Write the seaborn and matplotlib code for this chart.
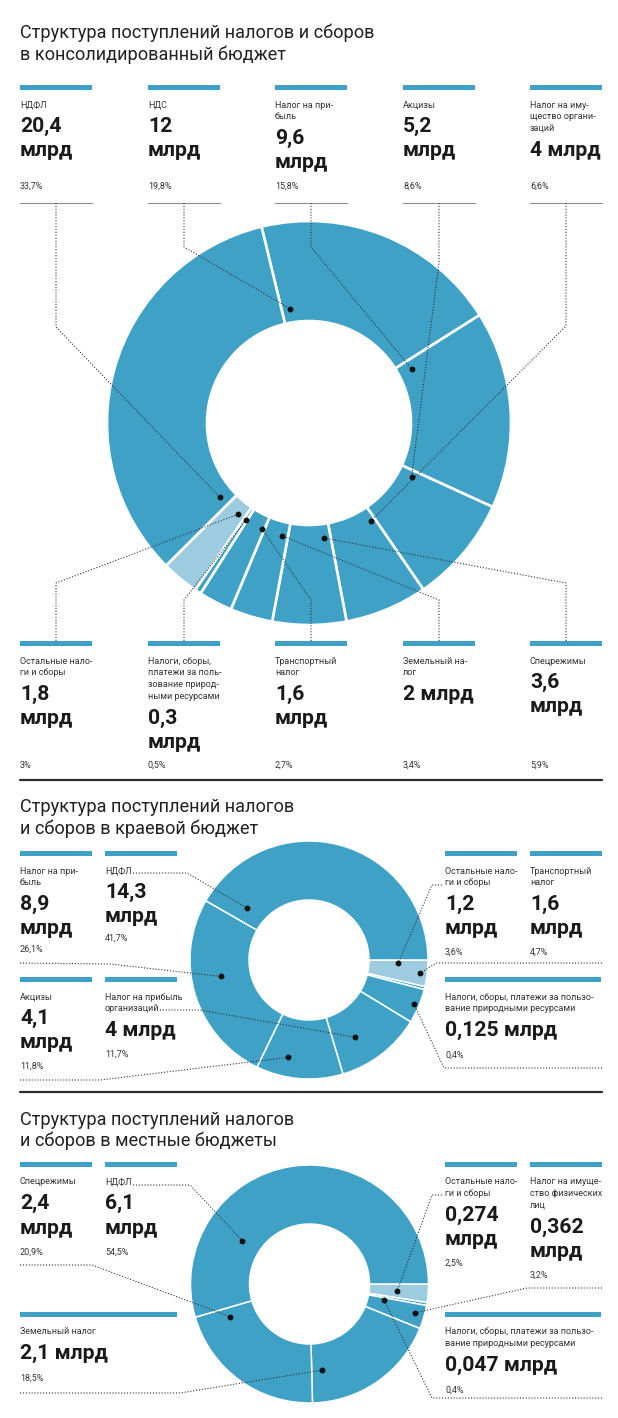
import matplotlib
matplotlib.use("Agg")
import matplotlib.pyplot as plt
from matplotlib.patches import Rectangle
import seaborn as sns
import numpy as np

# ---- data (pie order, clockwise) ----
# consolidated budget, bln rub / share %
cons_names = ["НДС", "Налог на прибыль", "Акцизы", "Налог на имущество организаций",
              "Спецрежимы", "Земельный налог", "Транспортный налог",
              "Налоги, сборы, платежи за пользование природными ресурсами",
              "Остальные налоги и сборы", "НДФЛ"]
cons_bln = [12, 9.6, 5.2, 4, 3.6, 2, 1.6, 0.3, 1.8, 20.4]
cons_share = [19.8, 15.8, 8.6, 6.6, 5.9, 3.4, 2.7, 0.5, 3.0, 33.7]

# regional budget
region_names = ["Остальные налоги и сборы",
                "Налоги, сборы, платежи за пользование природными ресурсами",
                "Транспортный налог", "Налог на прибыль организаций", "Акцизы",
                "Налог на прибыль", "НДФЛ"]
region_bln = [1.2, 0.125, 1.6, 4, 4.1, 8.9, 14.3]
region_share = [3.6, 0.4, 4.7, 11.7, 11.8, 26.1, 41.7]

# local budgets
local_names = ["Остальные налоги и сборы",
               "Налоги, сборы, платежи за пользование природными ресурсами",
               "Налог на имущество физических лиц", "Земельный налог", "Спецрежимы", "НДФЛ"]
local_bln = [0.274, 0.047, 0.362, 2.1, 2.4, 6.1]
local_share = [2.5, 0.4, 3.2, 18.5, 20.9, 54.5]

titles = [["Структура поступлений налогов и сборов", "в консолидированный бюджет"],
          ["Структура поступлений налогов", "и сборов в краевой бюджет"],
          ["Структура поступлений налогов", "и сборов в местные бюджеты"]]

BLUE = "#3fa1c6"
LIGHT = "#9dcce1"
INK = "#1a1a1a"
W, H = 618, 1418

sns.set_style("white")
plt.rcParams["font.family"] = ["Roboto", "DejaVu Sans"]

fig = plt.figure(figsize=(W / 100, H / 100), dpi=100)
ax = fig.add_axes([0, 0, 1, 1])


def fmt(v):
    return f"{v:g}".replace(".", ",")


def donut(shares, cx, cy, R, r, start, light, lw):
    colors = [LIGHT if i == light else BLUE for i in range(len(shares))]
    # y axis is inverted, so counterclock=True runs clockwise on screen
    wedges, _ = ax.pie(shares, colors=colors, startangle=start - 90, counterclock=True,
                       radius=R, center=(cx, cy),
                       wedgeprops=dict(width=R - r, edgecolor="white", linewidth=lw))
    return wedges


def block(x, y, w, label, value, share, wrap, pct_y):
    ax.add_patch(Rectangle((x, y), w, 5, color=BLUE, lw=0))
    lines = label.split("\n")
    for i, t in enumerate(lines):
        ax.text(x, y + 20 + i * 11.7, t, fontsize=6.5, va="center", color="#333")
    base = y + 47 + (len(lines) - 1) * 11.8
    big = dict(fontsize=15.2, fontweight="bold", va="baseline", color=INK)
    if wrap:
        ax.text(x, base, fmt(value), **big)
        ax.text(x, base + 24.5, "млрд", **big)
    else:
        ax.text(x, base, fmt(value) + " млрд", **big)
    ax.text(x, pct_y, fmt(share) + "%", fontsize=6.5, va="center", color="#333")


def leader(pts, wedge, frac, rad, cx, cy):
    t = np.deg2rad(wedge.theta1 + frac * (wedge.theta2 - wedge.theta1))
    dx, dy = cx + rad * np.cos(t), cy + rad * np.sin(t)
    xs = [p[0] for p in pts] + [dx]
    ys = [p[1] for p in pts] + [dy]
    ax.plot(xs, ys, color="#333", lw=0.8, ls=(0, (1, 1.6)), zorder=5)
    ax.plot(dx, dy, "o", color="#111", ms=3.2, zorder=6)


def title(lines, y):
    for i, t in enumerate(lines):
        ax.text(20, y + i * 21.5, t, fontsize=13.1, va="baseline", color="#222")


# ---- chart 1: consolidated budget ----
title(titles[0], 38)
cx, cy = 309, 423
wd = donut(cons_share, cx, cy, 202, 102, -13.6, 8, 1.9)
# (idx, x, bar_y, label, wrap, pct_y, leader points, anchor frac)
blocks1 = [
    (9, 20, 85, "НДФЛ", True, 186, [(56, 203), (56, 327)], 0.042),
    (0, 148, 85, "НДС", True, 186, [(184, 203), (184, 247)], 0.058),
    (1, 275, 85, "Налог на при-\nбыль", True, 186, [(311, 203), (311, 247)], 0.08),
    (2, 403, 85, "Акцизы", True, 186, [(439, 203), (439, 263)], 0.107),
    (3, 530, 85, "Налог на иму-\nщество органи-\nзаций", False, 186, [(566, 203), (566, 326)], 0.097),
    (8, 20, 641, "Остальные нало-\nги и сборы", True, 765, [(56, 641), (56, 583)], 0.34),
    (7, 148, 641, "Налоги, сборы,\nплатежи за поль-\nзование природ-\nными ресурсами", True, 765,
     [(184, 641), (184, 600)], 0.28),
    (6, 275, 641, "Транспортный\nналог", True, 765, [(311, 641), (311, 600)], 0.11),
    (5, 403, 641, "Земельный на-\nлог", False, 765, [(439, 641), (439, 600)], 0.23),
    (4, 530, 641, "Спецрежимы", True, 765, [(566, 641), (566, 583)], 0.155),
]
for idx, x, by, lab, wrap, py, pts, fr in blocks1:
    block(x, by, 72, lab, cons_bln[idx], cons_share[idx], wrap, py)
    if by < 400:
        ax.plot([x, x + 72], [203, 203], color="#8c8c8c", lw=0.8)
    leader(pts, wd[idx], fr, 116, cx, cy)

ax.plot([20, 602], [779.5, 779.5], color="#2b2b2b", lw=1.6)

# ---- chart 2: regional budget ----
title(titles[1], 812)
cx, cy = 309, 960
wd = donut(region_share, cx, cy, 119, 60, 90, 0, 1.1)
# (idx, x, bar_y, width, label, wrap, pct_y, leader points, anchor wedge, frac, radius)
blocks2 = [
    (5, 20, 851, 72, "Налог на при-\nбыль", True, 949, [(20, 963), (110, 964)], 5, 0.57, 90),
    (6, 105, 851, 72, "НДФЛ", True, 938, [(133, 873), (187, 873)], 6, 0.067, 80.6),
    (0, 445, 851, 72, "Остальные нало-\nги и сборы", True, 952, [(442, 885), (432, 885)], 0, 0.13, 89.5),
    (2, 530, 851, 72, "Транспортный\nналог", True, 952, [(602, 963), (436, 963)], 0, 0.52, 112),
    (4, 20, 977, 72, "Акцизы", True, 1066, [(20, 1080), (100, 1080)], 4, 0.67, 99.5),
    (3, 105, 977, 72, "Налог на прибыль\nорганизаций", False, 1054, [(160, 1010), (200, 1010)], 3, 0.66, 90),
    (1, 445, 977, 156, "Налоги, сборы, платежи за пользо-\nвание природными ресурсами", False, 1055,
     [(602, 1068), (444, 1068)], 2, 0.5, 114),
]
for idx, x, by, w, lab, wrap, py, pts, wi, fr, rad in blocks2:
    block(x, by, w, lab, region_bln[idx], region_share[idx], wrap, py)
    leader(pts, wd[wi], fr, rad, cx, cy)

ax.plot([20, 602], [1092, 1092], color="#2b2b2b", lw=1.6)

# ---- chart 3: local budgets ----
title(titles[2], 1125)
cx, cy = 309.5, 1284
wd = donut(local_share, cx, cy, 119, 60, 90, 0, 1.1)
blocks3 = [
    (4, 20, 1162, 72, "Спецрежимы", True, 1252, [(20, 1265), (92, 1265)], 4, 0.92, 86),
    (5, 105, 1162, 72, "НДФЛ", True, 1252, [(133, 1185), (190, 1185)], 5, 0.25, 80),
    (0, 445, 1162, 72, "Остальные нало-\nги и сборы", True, 1263, [(442, 1195), (432, 1195)], 0, 0.5, 88),
    (2, 530, 1162, 72, "Налог на имуще-\nство физических\nлиц", True, 1275, [(602, 1288), (527, 1288)], 2, 0.43, 109),
    (3, 20, 1312, 157, "Земельный налог", False, 1378, [(20, 1393), (180, 1393)], 3, 0.9, 87),
    (1, 445, 1312, 156, "Налоги, сборы, платежи за пользо-\nвание природными ресурсами", False, 1390,
     [(602, 1398), (432, 1398)], 2, 0.135, 76),
]
for idx, x, by, w, lab, wrap, py, pts, wi, fr, rad in blocks3:
    block(x, by, w, lab, local_bln[idx], local_share[idx], wrap, py)
    leader(pts, wd[wi], fr, rad, cx, cy)

ax.set_xlim(0, W)
ax.set_ylim(H, 0)
ax.set_axis_off()
fig.savefig("out.png", dpi=100, facecolor="white")
